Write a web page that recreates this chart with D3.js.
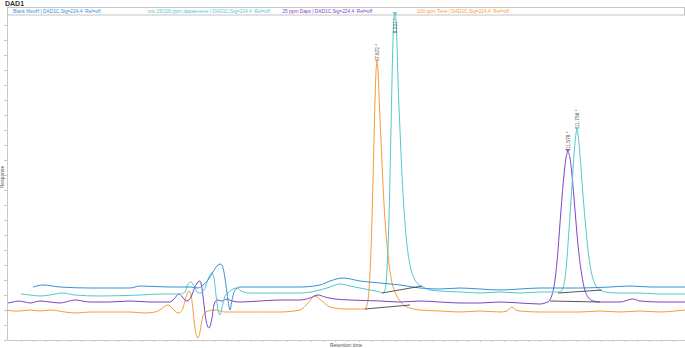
<!DOCTYPE html>
<html><head><meta charset="utf-8">
<script src="https://cdn.jsdelivr.net/npm/d3@7"></script>
<style>
body{margin:0;background:#fff}
svg{display:block;font-family:Arial,"Liberation Sans",sans-serif}
</style>
</head><body><svg id="c" width="685" height="348"></svg>
<script>
// ---- data: [retention time (min), response] ----
const blankMeoH = [[1.193,53],[1.387,55],[1.717,53],[2.300,52],[3.076,52],[3.270,54],[3.853,53],[4.241,53],[4.397,52],[4.494,55],[4.591,60],[4.688,68],[4.766,74],[4.843,76],[4.901,68],[4.940,55],[4.979,40],[5.018,30],[5.057,40],[5.115,50],[5.212,53],[5.600,53],[5.989,53],[6.377,53],[6.766,55],[6.960,59],[7.212,62],[7.542,59],[7.931,57],[8.319,55],[8.707,52],[9.096,51],[9.484,52],[9.872,51],[10.261,50],[10.649,51],[11.037,52],[11.426,52],[11.814,52],[12.397,53],[12.785,54],[13.174,53],[13.853,53]];

const mixDapsaTene = [[0.960,46],[1.135,45],[1.329,44],[1.523,45],[1.756,47],[2.008,45],[2.494,44],[3.270,45],[3.717,46],[4.047,46],[4.144,48],[4.203,56],[4.261,58],[4.319,54],[4.377,48],[4.435,47],[4.513,50],[4.571,58],[4.630,65],[4.668,67],[4.707,62],[4.746,45],[4.785,30],[4.824,25],[4.863,32],[4.921,44],[4.979,47],[5.076,51],[5.154,52],[5.232,49],[5.406,47],[5.600,47],[5.989,47],[6.377,47],[6.766,50],[6.960,53],[7.154,56],[7.348,54],[7.542,52],[7.736,50],[7.931,48],[7.989,47],[8.028,50],[8.067,70],[8.105,120],[8.144,210],[8.164,260],[8.183,300],[8.202,322],[8.221,326],[8.241,320],[8.261,295],[8.280,260],[8.319,210],[8.358,165],[8.397,130],[8.455,95],[8.513,75],[8.591,62],[8.668,56],[8.766,53],[8.901,50],[9.096,49],[9.484,48],[9.872,47],[10.261,48],[10.649,47],[11.037,48],[11.329,48],[11.426,48],[11.484,52],[11.542,70],[11.600,110],[11.659,155],[11.698,185],[11.736,206],[11.756,210],[11.775,206],[11.814,185],[11.872,145],[11.931,110],[11.989,82],[12.047,65],[12.125,54],[12.202,50],[12.300,48],[12.591,47],[12.979,47],[13.368,46],[13.853,46]];

const daps25 = [[0.708,37],[0.804,38],[0.902,39],[1.037,38],[1.135,37],[1.329,39],[1.523,38],[1.717,37],[2.008,40],[2.300,38],[2.688,38],[3.076,39],[3.465,38],[3.853,38],[3.931,41],[4.028,46],[4.105,42],[4.183,39],[4.261,43],[4.338,53],[4.397,58],[4.435,59],[4.474,52],[4.513,35],[4.552,20],[4.610,12],[4.668,22],[4.707,35],[4.766,40],[4.863,39],[4.960,41],[5.057,39],[5.212,38],[5.600,39],[5.989,40],[6.377,40],[6.571,42],[6.727,45],[6.863,43],[7.057,41],[7.348,40],[7.931,39],[8.319,38],[8.707,39],[9.096,38],[9.484,37],[9.872,37],[10.261,38],[10.649,37],[11.037,36],[11.134,37],[11.212,39],[11.270,45],[11.329,60],[11.387,90],[11.445,130],[11.503,165],[11.542,182],[11.578,188],[11.620,182],[11.659,165],[11.717,130],[11.775,95],[11.834,70],[11.892,53],[11.969,43],[12.067,39],[12.202,38],[12.591,38],[12.843,41],[12.979,39],[13.368,38],[13.853,38]];

const tene100 = [[0.688,30],[0.804,29],[0.940,29],[1.135,30],[1.329,29],[1.523,30],[1.814,28],[2.008,27],[2.300,28],[2.688,28],[3.076,28],[3.368,27],[3.562,28],[3.659,30],[3.756,34],[3.814,35],[3.892,32],[4.008,27],[4.067,28],[4.105,32],[4.164,43],[4.222,49],[4.261,45],[4.300,30],[4.338,12],[4.377,3],[4.397,2],[4.435,8],[4.474,20],[4.513,26],[4.591,29],[4.727,30],[4.921,28],[5.212,28],[5.600,28],[5.989,28],[6.377,30],[6.533,37],[6.668,44],[6.804,39],[6.960,33],[7.251,31],[7.639,31],[7.678,35],[7.717,50],[7.756,90],[7.795,160],[7.834,240],[7.853,268],[7.872,278],[7.892,270],[7.911,245],[7.950,200],[7.989,155],[8.028,120],[8.086,85],[8.144,62],[8.222,48],[8.319,39],[8.416,34],[8.513,32],[8.707,30],[9.096,29],[9.484,28],[9.872,29],[10.261,28],[10.397,29],[10.494,33],[10.571,30],[10.649,29],[11.037,28],[11.426,28],[11.814,28],[12.202,29],[12.591,28],[12.979,29],[13.368,28],[13.659,29],[13.853,30]];

// integration baselines per series: [[t0,v0],[t1,v1]]
const baselinesMix = [[[7.969,47],[8.746,54]],[[11.387,47],[12.241,50]]];
const baselinesDaps = [[[11.232,39],[12.202,38]]];
const baselinesTene = [[[7.639,31],[8.513,35]]];

// peak apex times and labels
const peakTimesMix = [8.221, 11.756];
const peakLabelsMix = ["8.221 *", "11.756 *"];
const peakTimesDaps = [11.578];
const peakLabelsDaps = ["11.578 *"];
const peakTimesTene = [7.872];
const peakLabelsTene = ["7.872 *"];

const legendLabels = [
  "Blank MeoH | DAD1C,Sig=224,4\u00a0\u00a0Ref=off",
  "mix 25/100 ppm dapsa+tene | DAD1C,Sig=224,4\u00a0\u00a0Ref=off",
  "25 ppm Daps | DAD1C,Sig=224,4\u00a0\u00a0Ref=off",
  "100 ppm Tene | DAD1C,Sig=224,4\u00a0\u00a0Ref=off"
];
const seriesColors = ["#3592d6", "#52c8cb", "#7b45c4", "#f79c36"];
const xDomain = [0.688, 13.853];
const yDomain = [0, 326];
const xTickStart = 0.96, xTickStep = 0.2345;
const yTickStep = 15;
const titleText = "DAD1";
const xAxisTitle = "Retention time";
const yAxisTitle = "Response";

// ---- drawing ----
const svg = d3.select("#c");
const plot = {l: 7, r: 685, t: 14, b: 340};

const x = d3.scaleLinear().domain(xDomain).range([plot.l, plot.r]);
const y = d3.scaleLinear().domain(yDomain).range([plot.b, plot.t]);

svg.append("text").attr("x", 5).attr("y", 6).attr("font-size", 7).attr("fill", "#333")
  .attr("font-weight", "bold").text(titleText);

// legend box
const box = {x: 7.5, y: 7.5, w: 677, h: 7.5};
svg.append("rect").attr("x", box.x).attr("y", box.y).attr("width", box.w).attr("height", box.h)
  .attr("fill", "#fff").attr("stroke", "#c4c4c4").attr("stroke-width", 1);
legendLabels.forEach((lab, i) => {
  svg.append("text").attr("x", 13 + i * 134.7).attr("y", 12.8)
    .attr("font-size", 4.8).attr("fill", seriesColors[i]).text(lab);
});

// axes
const yAxis = d3.axisLeft(y).tickValues(d3.range(yDomain[0], yDomain[1], yTickStep))
  .tickSize(3).tickSizeOuter(0).tickFormat("");
const gy = svg.append("g").attr("transform", `translate(${plot.l},0)`).call(yAxis);
const xAxis = d3.axisBottom(x).tickValues(d3.range(xTickStart, xDomain[1], xTickStep))
  .tickSize(2).tickSizeOuter(0).tickFormat("");
const gx = svg.append("g").attr("transform", `translate(0,${plot.b})`).call(xAxis);
[gx, gy].forEach(g => {
  g.select(".domain").attr("stroke", "#c8c8c8");
  g.selectAll(".tick line").attr("stroke", "#c8c8c8");
});

svg.append("text").attr("x", (plot.l + plot.r) / 2).attr("y", 347)
  .attr("text-anchor", "middle").attr("font-size", 5).attr("fill", "#555").text(xAxisTitle);
svg.append("text").attr("transform", `translate(4,${(plot.t + plot.b) / 2}) rotate(-90)`)
  .attr("text-anchor", "middle").attr("font-size", 5).attr("fill", "#555").text(yAxisTitle);

// clip
svg.append("defs").append("clipPath").attr("id", "clip").append("rect")
  .attr("x", plot.l).attr("y", plot.t - 1).attr("width", plot.r - plot.l).attr("height", plot.b - plot.t + 1);
const g = svg.append("g").attr("clip-path", "url(#clip)");

const line = d3.line().x(d => x(d[0])).y(d => y(d[1])).curve(d3.curveMonotoneX);
const allSeries = [blankMeoH, mixDapsaTene, daps25, tene100];
const allBaselines = [[], baselinesMix, baselinesDaps, baselinesTene];
const allPeakT = [[], peakTimesMix, peakTimesDaps, peakTimesTene];
const allPeakL = [[], peakLabelsMix, peakLabelsDaps, peakLabelsTene];

[3, 2, 1, 0].forEach(i => {
  g.append("path").datum(allSeries[i]).attr("d", line)
    .attr("fill", "none").attr("stroke", seriesColors[i]).attr("stroke-width", 1);
});
// baselines
allBaselines.forEach(bl => bl.forEach(seg => {
  g.append("line").attr("x1", x(seg[0][0])).attr("y1", y(seg[0][1]))
    .attr("x2", x(seg[1][0])).attr("y2", y(seg[1][1]))
    .attr("stroke", "#444").attr("stroke-width", 0.9);
}));
// peak markers + labels
const fs = 4.8;
allPeakT.forEach((pts, i) => pts.forEach((t, k) => {
  const s = allSeries[i];
  const near = s.reduce((a, b) => Math.abs(b[0] - t) < Math.abs(a[0] - t) ? b : a);
  const px = x(t), py = Math.max(y(near[1]), plot.t + 1);
  svg.append("path").attr("d", `M${px - 2},${py - 2.5}L${px},${py}L${px + 2},${py - 2.5}Z`)
    .attr("fill", seriesColors[i]).attr("stroke", seriesColors[i]).attr("stroke-width", 0.6);
  const lab = allPeakL[i][k];
  const len = lab.length * fs * 0.5;
  const below = (py - 3 - len) < plot.t + 2;
  svg.append("text")
    .attr("transform", `translate(${px + 1.7},${below ? py + 3 : py - 3}) rotate(-90)`)
    .attr("text-anchor", below ? "end" : "start")
    .attr("font-size", fs).attr("fill", "#555").text(lab);
}));
</script>
</body></html>
